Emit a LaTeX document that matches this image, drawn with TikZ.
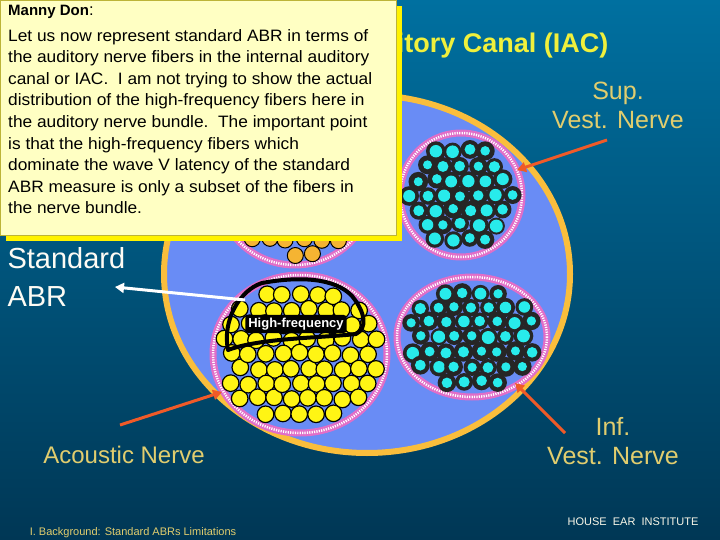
\documentclass[tikz,border=0pt]{standalone}
\usepackage{fontspec}
\setmainfont{Liberation Sans}
\usetikzlibrary{arrows.meta}
\definecolor{bgtop}{RGB}{0,112,160}
\definecolor{bgbot}{RGB}{0,55,85}
\definecolor{canal}{RGB}{105,140,245}
\definecolor{gold}{RGB}{250,190,60}
\definecolor{pinkb}{RGB}{225,110,200}
\definecolor{fy}{RGB}{255,245,20}
\definecolor{fo}{RGB}{245,180,50}
\definecolor{fc}{RGB}{40,235,235}
\definecolor{lbl}{RGB}{225,205,110}
\definecolor{ttl}{RGB}{240,240,60}
\definecolor{note}{RGB}{255,255,195}
\definecolor{arr}{RGB}{240,90,40}
\newcommand\fibset[6]{%
 \foreach \i in {-7,...,7}{\foreach \j in {-7,...,7}{%
  \pgfmathsetmacro\px{#1+(\i+0.5*mod(abs(\j),2))*#5+rnd*3-1.5}%
  \pgfmathsetmacro\py{#2+\j*#5*0.87+rnd*3-1.5}%
  \pgfmathtruncatemacro\inside{((\px-#1)/(#3-#5*0.5))^2+((\py-#2)/(#4-#5*0.5))^2<1 ? 1 : 0}%
  \ifnum\inside=1 #6\fi}}}
\newcommand\nl[1]{\scalebox{1.05}[1]{#1}}
\tikzset{
 bundle/.style={draw=pinkb,line width=7pt,fill=canal},
 bundledots/.style={draw=white,line width=2.5pt,dash pattern=on 1.2pt off 1.2pt},
 lab/.style={text=lbl,font=\fontsize{25}{29}\selectfont,align=center},
 oarrow/.style={draw=arr,line width=3pt,-{Triangle[length=9pt,width=10pt]}}
}
\begin{document}
\begin{tikzpicture}[x=1pt,y=-1pt]
\useasboundingbox (0,0) rectangle (720,540);
\shade[top color=bgtop,bottom color=bgbot] (0,0) rectangle (720,540);
\node[anchor=base east,text=ttl,font=\bfseries\fontsize{27}{30}\selectfont] (title) at (612,53) {Internal Auditory Canal (IAC)};
% canal
\draw[draw=gold,line width=6pt,fill=canal] (367,274) ellipse [x radius=203,y radius=179];
% bundles
\foreach \cx/\cy/\rx/\ry in {295/195/75/70,300/354/87/79,461/195/61/62,472/337/75/60}{
 \draw[bundle] (\cx,\cy) ellipse [x radius=\rx,y radius=\ry];
 \draw[bundledots] (\cx,\cy) ellipse [x radius=\rx,y radius=\ry];}
\pgfmathsetseed{7}
\fibset{295}{195}{75}{70}{17}{\fill[fo,draw=black,line width=1pt] (\px,\py) circle (8);}
\fibset{300}{354}{87}{79}{17}{\fill[fy,draw=black,line width=1.2pt] (\px,\py) circle (8.3);}
\fibset{461}{195}{61}{62}{17}{\fill[black!85] (\px,\py) circle ({8.5+rnd*1.5}); \fill[fc] (\px,\py) circle ({4.5+rnd*2});}
\fibset{472}{337}{75}{60}{17}{\fill[black!85] (\px,\py) circle ({8.5+rnd*1.5}); \fill[fc] (\px,\py) circle ({4.5+rnd*2});}
% high-frequency blob
\draw[line width=4pt,line join=round] (228,350) .. controls (222,320) and (240,290) .. (262,283)
 .. controls (300,276) and (335,278) .. (352,296) .. controls (365,312) and (368,328) .. (356,334)
 .. controls (320,338) and (260,338) .. (228,350) -- cycle;
\node[fill=black,rounded corners=3pt,text=white,font=\bfseries\fontsize{13}{15}\selectfont,inner sep=3pt] (hf) at (296,324) {High-frequency};
% labels
\node[anchor=west,text=white!92!lbl,font=\fontsize{29}{38}\selectfont,align=left] (std) at (4,277) {Standard\\ABR};
\coordinate (abrtip) at (115,287);
\coordinate (abrfrom) at (245,300);
\draw[white,line width=3pt,-{Triangle[length=9pt,width=10pt]}] (abrfrom) -- (abrtip);
\node[lab] (sup) at (618,105) {Sup.\\Vest. Nerve};
\node[lab] (inf) at (613,441) {Inf.\\Vest. Nerve};
\node[text=lbl,font=\fontsize{24}{28}\selectfont] (ac) at (124,455) {Acoustic Nerve};
\coordinate (supt) at (517,170); \coordinate (supf) at (607,140);
\coordinate (inft) at (515,383); \coordinate (inff) at (565,433);
\coordinate (act) at (222,392); \coordinate (acf) at (120,425);
\draw[oarrow] (supf) -- (supt);
\draw[oarrow] (inff) -- (inft);
\draw[oarrow] (acf) -- (act);
\node[text=lbl,font=\fontsize{11}{13}\selectfont] (bg) at (133,533) {I. Background: Standard ABRs Limitations};
\node[text=white!85!lbl,font=\fontsize{11}{13}\selectfont] (hei) at (633,522) {HOUSE\ \ EAR\ \ INSTITUTE};
% note box
\fill[yellow] (6,6) rectangle (402,241);
\draw[fill=note,draw=yellow!70!black,line width=0.6pt] (0,0) rectangle (396,235);
\node[anchor=north west,align=left,font=\fontsize{16.5}{21.6}\selectfont,inner sep=0pt] (note) at (8,5)
{\textbf{\fontsize{15}{18}\selectfont Manny Don}:\\[4pt]
\nl{Let us now represent standard ABR in terms of}\\
\nl{the auditory nerve fibers in the internal auditory}\\
\nl{canal or IAC.\ \ I am not trying to show the actual}\\
\nl{distribution of the high-frequency fibers here in}\\
\nl{the auditory nerve bundle.\ \ The important point}\\
\nl{is that the high-frequency fibers which}\\
\nl{dominate the wave V latency of the standard}\\
\nl{ABR measure is only a subset of the fibers in}\\
\nl{the nerve bundle.}};
\end{tikzpicture}
\end{document}
